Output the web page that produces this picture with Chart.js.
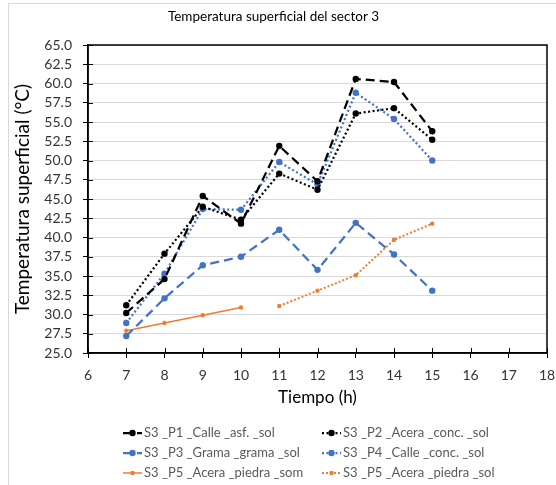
<!DOCTYPE html>
<html><head><meta charset="utf-8">
<script src="https://cdn.jsdelivr.net/npm/chart.js@4"></script>
<style>
html,body{margin:0;padding:0;background:#fff;}
#wrap{position:relative;width:556px;height:485px;overflow:hidden;}
#frame{position:absolute;left:8px;top:3px;width:560px;height:500px;border:1px solid #d9d9d9;}
canvas{position:absolute;left:0;top:0;}
</style></head><body>
<div id="wrap"><div id="frame"></div><canvas id="c" width="556" height="485"></canvas></div>
<script>
const hours = [7, 8, 9, 10, 11, 12, 13, 14, 15];
const p1Calle = [30.2, 34.6, 45.4, 41.8, 51.9, 47.3, 60.6, 60.2, 53.8];
const p2Acera = [31.2, 37.9, 44.0, 42.3, 48.3, 46.2, 56.1, 56.8, 52.7];
const p3Grama = [27.2, 32.1, 36.4, 37.5, 41.0, 35.8, 41.9, 37.8, 33.1];
const p4Calle = [28.9, 35.3, 43.7, 43.6, 49.8, 46.9, 58.8, 55.4, 50.0];
const p5Som = [27.9, 28.9, 29.9, 30.9, null, null, null, null, null];
const p5Sol = [null, null, null, null, 31.1, 33.1, 35.1, 39.7, 41.8];
const seriesNames = [
  'S3 _P1 _Calle _asf. _sol',
  'S3 _P2 _Acera _conc. _sol',
  'S3 _P3 _Grama _grama _sol',
  'S3 _P4 _Calle _conc. _sol',
  'S3 _P5 _Acera _piedra _som',
  'S3 _P5 _Acera _piedra _sol'
];
const xMin = 6, xMax = 18, xStep = 1;
const yMin = 25, yMax = 65, yStep = 2.5;
const chartTitle = 'Temperatura superficial del sector 3';
const xTitle = 'Tiempo (h)';
const yTitle = 'Temperatura superficial (°C)';

const FONT = 'Lato, "Open Sans", sans-serif';
const BLACK = '#000000', BLUE = '#4472C4', ORANGE = '#ED7D31';

function pts(vals) { return hours.map((h, i) => ({x: h, y: vals[i]})); }

const styles = [
  {c: BLACK, w: 2.25, d: [9, 5], r: 3.2},
  {c: BLACK, w: 2.25, d: [2, 2.5], r: 3.2},
  {c: BLUE, w: 2.25, d: [9, 5], r: 3.2},
  {c: BLUE, w: 2.25, d: [2, 2.5], r: 3.2},
  {c: ORANGE, w: 1.5, d: [], r: 2.2},
  {c: ORANGE, w: 2, d: [2, 2], r: 2.2}
];
const allVals = [p1Calle, p2Acera, p3Grama, p4Calle, p5Som, p5Sol];

const datasets = allVals.map((v, i) => ({
  label: seriesNames[i],
  data: pts(v),
  borderColor: styles[i].c,
  backgroundColor: styles[i].c,
  borderWidth: styles[i].w,
  borderDash: styles[i].d,
  pointRadius: styles[i].r,
  pointHoverRadius: styles[i].r,
  pointBorderWidth: 0,
  pointBackgroundColor: styles[i].c,
  spanGaps: false,
  tension: 0,
  fill: false
}));

const boxPlugin = {
  id: 'box',
  beforeDatasetsDraw(chart) {
    const {ctx, chartArea: a} = chart;
    ctx.save();
    ctx.strokeStyle = '#000';
    ctx.lineWidth = 1.5;
    ctx.strokeRect(a.left, a.top, a.right - a.left, a.bottom - a.top);
    ctx.lineWidth = 1;
    const xs = chart.scales.x, ys = chart.scales.y;
    ys.ticks.forEach((t) => {
      const p = Math.round(ys.getPixelForValue(t.value)) + 0.5;
      ctx.beginPath(); ctx.moveTo(a.left, p); ctx.lineTo(a.left + 5, p); ctx.stroke();
    });
    xs.ticks.forEach((t) => {
      const p = Math.round(xs.getPixelForValue(t.value)) + 0.5;
      ctx.beginPath(); ctx.moveTo(p, a.bottom); ctx.lineTo(p, a.bottom - 5); ctx.stroke();
    });
    ctx.restore();
  },
  afterDraw(chart) {
    const {ctx} = chart;
    ctx.save();
    chart.data.datasets.forEach((ds, i) => {
      const col = i % 2, row = Math.floor(i / 2);
      const x0 = col ? 322 : 123;
      const y = 433 + row * 20;
      ctx.strokeStyle = ds.borderColor;
      ctx.lineWidth = ds.borderWidth;
      ctx.setLineDash(ds.borderDash);
      ctx.beginPath(); ctx.moveTo(x0, y); ctx.lineTo(x0 + 19, y); ctx.stroke();
      ctx.setLineDash([]);
      ctx.fillStyle = ds.borderColor;
      ctx.beginPath(); ctx.arc(x0 + 9.5, y, ds.pointRadius, 0, Math.PI * 2); ctx.fill();
      ctx.fillStyle = '#595959';
      ctx.font = '13px ' + FONT;
      ctx.textBaseline = 'middle';
      ctx.textAlign = 'left';
      ctx.fillText(ds.label, x0 + 21, y);
    });
    ctx.restore();
  }
};

new Chart(document.getElementById('c'), {
  type: 'line',
  data: {datasets},
  plugins: [boxPlugin],
  options: {
    responsive: false,
    devicePixelRatio: 1,
    animation: false,
    layout: {padding: {left: 0, right: 9, top: 0, bottom: 72}},
    plugins: {
      legend: {display: false},
      tooltip: {enabled: false},
      title: {
        display: true, text: chartTitle, color: '#000',
        font: {family: FONT, size: 13.5, weight: 'normal'},
        padding: {top: 8.8, bottom: 20}
      }
    },
    scales: {
      x: {
        type: 'linear', min: xMin, max: xMax,
        afterFit(s) { s.height = 60; s.paddingLeft = 0; s.paddingRight = 0; },
        ticks: {stepSize: xStep, color: '#333', padding: 9, autoSkip: false, font: {family: FONT, size: 14}},
        grid: {drawOnChartArea: false, tickColor: '#000', tickLength: 5, lineWidth: 1},
        border: {display: true, color: '#000', width: 1.5},
        title: {display: true, text: xTitle, color: '#000', font: {family: FONT, size: 17, weight: 'normal'}, padding: {top: 0, bottom: 5}}
      },
      y: {
        type: 'linear', min: yMin, max: yMax,
        afterFit(s) { s.width = 88; s.paddingTop = 0; s.paddingBottom = 0; },
        ticks: {stepSize: yStep, color: '#333', padding: 11, autoSkip: false, font: {family: FONT, size: 14},
          callback: (v) => Number(v).toFixed(1)},
        grid: {color: '#d9d9d9', tickColor: '#000', tickLength: 5, lineWidth: 1},
        border: {display: true, color: '#000', width: 1.5},
        title: {display: true, text: yTitle, color: '#000', font: {family: FONT, size: 19, weight: 'normal'}, padding: {top: 11, bottom: 0}}
      }
    }
  }
});
</script>
</body></html>
